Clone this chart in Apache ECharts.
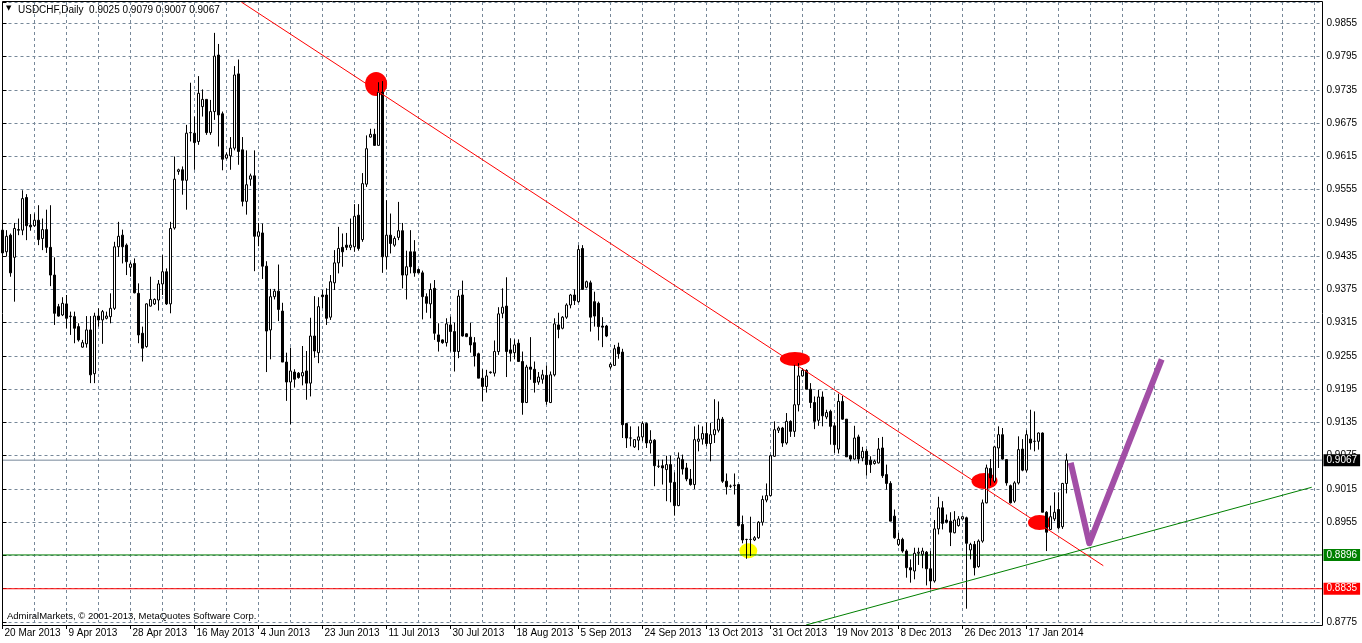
<!DOCTYPE html>
<html><head><meta charset="utf-8">
<script src="https://cdn.jsdelivr.net/npm/echarts@6/dist/echarts.min.js"></script>
<style>html,body{margin:0;padding:0;background:#fff}#c{width:1362px;height:643px}</style>
</head><body><div id="c"></div>
<script>
// ---- data ----
const symbolName = 'USDCHF,Daily';
const tickLabels = ['20 Mar 2013','9 Apr 2013','28 Apr 2013','16 May 2013','4 Jun 2013','23 Jun 2013','11 Jul 2013','30 Jul 2013','18 Aug 2013','5 Sep 2013','24 Sep 2013','13 Oct 2013','31 Oct 2013','19 Nov 2013','8 Dec 2013','26 Dec 2013','17 Jan 2014'];
const yTickLabels = ['0.8775','0.8835','0.8895','0.8955','0.9015','0.9075','0.9135','0.9195','0.9255','0.9315','0.9375','0.9435','0.9495','0.9555','0.9615','0.9675','0.9735','0.9795','0.9855'];
// daily bars: [open, high, low, close]
const ohlc = [
[.9482,.9483,.9406,.9441],[.9443,.9482,.9435,.9471],[.9473,.9476,.9398,.9405],[.9433,.9495,.9353,.9485],[.9483,.9503,.9473,.9482],
[.9482,.9554,.9473,.9539],[.9541,.9547,.9464,.9490],[.9491,.9511,.9481,.9488],[.9490,.9512,.9488,.9500],[.9500,.9527,.9455,.9465],
[.9467,.9503,.9446,.9483],[.9483,.9519,.9441,.9451],[.9451,.9527,.9381,.9401],[.9401,.9433,.9311,.9332],[.9344,.9349,.9326,.9327],
[.9329,.9361,.9327,.9350],[.9349,.9365,.9305,.9323],[.9326,.9335,.9293,.9327],[.9326,.9335,.9278,.9305],[.9308,.9314,.9281,.9284],
[.9271,.9284,.9270,.9279],[.9277,.9327,.9270,.9302],[.9302,.9327,.9206,.9221],[.9223,.9333,.9206,.9327],[.9327,.9341,.9308,.9320],
[.9320,.9338,.9277,.9335],[.9323,.9335,.9321,.9327],[.9326,.9368,.9314,.9341],[.9341,.9461,.9338,.9452],[.9452,.9497,.9434,.9471],
[.9473,.9483,.9422,.9452],[.9455,.9458,.9401,.9425],[.9415,.9425,.9398,.9421],[.9422,.9431,.9368,.9369],[.9368,.9386,.9278,.9293],
[.9296,.9308,.9245,.9269],[.9272,.9350,.9270,.9349],[.9345,.9398,.9344,.9357],[.9349,.9359,.9347,.9357],[.9356,.9392,.9337,.9385],
[.9385,.9437,.9365,.9407],[.9407,.9413,.9347,.9349],[.9349,.9497,.9332,.9485],
[.9486,.9615,.9483,.9574],[.9588,.9593,.9582,.9591],[.9591,.9597,.9546,.9572],[.9572,.9672,.9519,.9657],[.9658,.9748,.9642,.9658],
[.9657,.9687,.9591,.9640],[.9642,.9760,.9636,.9729],[.9705,.9736,.9687,.9718],[.9718,.9718,.9654,.9658],[.9658,.9717,.9654,.9696],
[.9696,.9838,.9681,.9796],[.9798,.9818,.9633,.9690],[.9692,.9696,.9590,.9610],[.9612,.9622,.9610,.9618],[.9616,.9650,.9591,.9630],
[.9630,.9778,.9626,.9762],[.9764,.9790,.9600,.9624],[.9627,.9650,.9525,.9534],[.9534,.9626,.9510,.9564],[.9574,.9584,.9562,.9580],
[.9580,.9626,.9408,.9471],[.9471,.9495,.9453,.9479],[.9477,.9494,.9394,.9417],[.9417,.9426,.9226,.9300],[.9302,.9376,.9249,.9362],
[.9362,.9376,.9357,.9372],[.9372,.9420,.9318,.9339],[.9336,.9351,.9244,.9244],[.9244,.9261,.9174,.9208],[.9208,.9270,.9132,.9228],
[.9226,.9231,.9198,.9213],[.9224,.9226,.9214,.9216],[.9219,.9273,.9202,.9225],[.9228,.9264,.9176,.9206],[.9206,.9324,.9182,.9291],
[.9291,.9363,.9252,.9264],
[.9261,.9361,.9242,.9344],[.9365,.9374,.9341,.9362],[.9365,.9377,.9311,.9323],[.9325,.9401,.9320,.9389],[.9387,.9446,.9374,.9423],
[.9423,.9488,.9404,.9449],[.9451,.9476,.9416,.9443],[.9455,.9477,.9446,.9451],[.9451,.9503,.9446,.9455],[.9452,.9529,.9443,.9507],
[.9509,.9529,.9445,.9449],[.9465,.9585,.9461,.9566],[.9565,.9653,.9560,.9629],[.9650,.9665,.9649,.9655],[.9655,.9665,.9635,.9635],
[.9635,.9749,.9635,.9731],[.9731,.9751,.9405,.9434],[.9434,.9536,.9411,.9473],[.9473,.9512,.9440,.9458],[.9455,.9471,.9452,.9467],
[.9469,.9533,.9464,.9481],[.9481,.9495,.9377,.9401],[.9401,.9445,.9357,.9416],[.9443,.9482,.9404,.9416],[.9443,.9464,.9398,.9405],
[.9411,.9413,.9404,.9405],[.9405,.9409,.9321,.9362],[.9362,.9368,.9333,.9350],[.9349,.9386,.9323,.9375],[.9377,.9392,.9284,.9296],
[.9293,.9314,.9263,.9281],[.9284,.9285,.9277,.9279],[.9279,.9323,.9272,.9313],[.9311,.9326,.9263,.9299],[.9299,.9315,.9227,.9263],
[.9263,.9374,.9251,.9363],
[.9365,.9391,.9290,.9291],[.9295,.9296,.9289,.9290],[.9289,.9315,.9261,.9275],[.9279,.9289,.9236,.9255],[.9259,.9261,.9215,.9215],
[.9215,.9231,.9173,.9200],[.9200,.9230,.9189,.9219],[.9225,.9227,.9223,.9226],[.9224,.9283,.9218,.9263],[.9263,.9343,.9257,.9331],
[.9332,.9377,.9323,.9343],[.9345,.9397,.9217,.9263],[.9266,.9287,.9245,.9260],[.9261,.9285,.9249,.9275],[.9278,.9285,.9245,.9245],
[.9245,.9263,.9149,.9171],[.9171,.9239,.9170,.9235],[.9235,.9289,.9212,.9231],[.9231,.9245,.9189,.9207],[.9208,.9226,.9203,.9217],
[.9213,.9230,.9205,.9221],[.9220,.9238,.9167,.9173],[.9171,.9227,.9170,.9221],[.9221,.9323,.9218,.9313],[.9311,.9333,.9287,.9303],
[.9305,.9327,.9303,.9325],[.9325,.9350,.9322,.9347],[.9347,.9367,.9341,.9365],[.9365,.9375,.9347,.9355],[.9353,.9455,.9351,.9447],
[.9449,.9455,.9375,.9375],[.9379,.9391,.9377,.9389],[.9387,.9391,.9299,.9325],[.9353,.9371,.9308,.9327],[.9350,.9353,.9283,.9308],
[.9309,.9325,.9271,.9307],[.9309,.9311,.9289,.9291],[.9235,.9243,.9231,.9240],[.9238,.9275,.9237,.9268],[.9271,.9279,.9250,.9259],
[.9262,.9268,.9107,.9131],
[.9133,.9134,.9089,.9107],[.9107,.9128,.9092,.9107],[.9091,.9105,.9089,.9104],[.9103,.9128,.9085,.9109],[.9109,.9137,.9101,.9133],
[.9133,.9135,.9089,.9098],[.9098,.9121,.9079,.9103],[.9103,.9105,.9020,.9057],[.9056,.9068,.9053,.9056],[.9057,.9068,.9023,.9053],
[.9050,.9075,.8993,.9059],[.9059,.9075,.8991,.9027],[.9027,.9045,.8967,.8985],[.8985,.9081,.8984,.9071],[.9068,.9077,.9041,.9051],
[.9053,.9062,.9029,.9033],[.9033,.9051,.9021,.9023],[.9023,.9128,.9015,.9104],[.9101,.9131,.9083,.9105],[.9105,.9128,.9095,.9115],
[.9115,.9135,.9092,.9097],[.9097,.9134,.9065,.9113],[.9113,.9177,.9098,.9122],[.9121,.9173,.9117,.9141],[.9141,.9145,.9026,.9029],
[.9029,.9043,.9005,.9019],[.9020,.9023,.9017,.9020],[.9021,.9043,.9005,.9022],[.9023,.9023,.8949,.8949],[.8951,.8967,.8917,.8923],
[.8924,.8925,.8889,.8924],[.8924,.8965,.8894,.8924],[.8923,.8930,.8921,.8927],[.8927,.8957,.8925,.8955],[.8955,.9003,.8949,.8996],
[.8995,.9025,.8991,.9003],[.9003,.9077,.9002,.9075],[.9074,.9137,.9073,.9122],[.9121,.9128,.9116,.9125],
[.9125,.9127,.9091,.9098],[.9098,.9152,.9095,.9137],[.9137,.9139,.9109,.9119],[.9119,.9239,.9109,.9167],[.9167,.9242,.9155,.9219],
[.9219,.9233,.9218,.9229],[.9229,.9231,.9195,.9195],[.9195,.9206,.9161,.9171],[.9171,.9182,.9123,.9137],[.9139,.9194,.9129,.9181],
[.9181,.9191,.9128,.9147],[.9145,.9158,.9141,.9153],[.9155,.9158,.9095,.9128],[.9129,.9135,.9080,.9095],[.9087,.9187,.9079,.9173],
[.9173,.9183,.9140,.9141],[.9141,.9141,.9073,.9073],[.9075,.9077,.9065,.9069],[.9069,.9129,.9068,.9107],[.9109,.9113,.9061,.9069],
[.9071,.9091,.9065,.9083],[.9083,.9087,.9039,.9059],[.9067,.9074,.9044,.9059],[.9061,.9068,.9059,.9065],[.9062,.9107,.9061,.9087],
[.9089,.9109,.9035,.9039],[.9041,.9059,.9014,.9025],[.9025,.9029,.8957,.8957],[.8966,.8978,.8925,.8927],[.8915,.8936,.8912,.8924],
[.8924,.8927,.8900,.8903],[.8903,.8906,.8855,.8873],[.8873,.8888,.8846,.8869],[.8867,.8909,.8852,.8899],[.8899,.8909,.8878,.8901],
[.8897,.8909,.8872,.8903],[.8901,.8903,.8841,.8871],[.8871,.8903,.8834,.8849],[.8849,.8959,.8846,.8943],
[.8943,.9001,.8933,.8981],[.8981,.8993,.8942,.8953],[.8959,.8969,.8953,.8955],[.8957,.8973,.8912,.8937],[.8936,.8975,.8935,.8959],
[.8949,.8966,.8947,.8961],[.8961,.8967,.8960,.8965],[.8963,.8965,.8799,.8917],[.8905,.8918,.8888,.8915],[.8915,.8921,.8859,.8873],
[.8875,.8924,.8873,.8921],[.8921,.8996,.8918,.8990],[.8990,.9059,.8989,.9053],[.9052,.9069,.9021,.9035],[.9029,.9093,.9026,.9091],
[.9089,.9128,.9053,.9113],[.9113,.9125,.9068,.9069],[.9068,.9069,.9021,.9026],[.9021,.9023,.8989,.8990],[.8993,.9029,.8990,.9026],
[.9026,.9110,.9023,.9086],[.9087,.9105,.9047,.9049],[.9049,.9121,.9045,.9113],[.9105,.9158,.9086,.9098],[.9101,.9155,.9083,.9101],
[.9101,.9117,.9086,.9116],[.9116,.9117,.8973,.8973],[.8973,.8975,.8903,.8937],[.8942,.8985,.8941,.8965],[.8961,.9009,.8957,.8973],
[.8978,.9009,.8942,.8945],[.8947,.9026,.8943,.9025],[.9025,.9079,.9007,.9067]
];
// drawn objects, in [bar position, price]
const redTrend = [[59.7, 0.98937], [275.2, 0.88766]];
const greenTrend = [[200.9, 0.87696], [327.3, 0.90181]];
const purplePath = [[267.05, 0.90624], [271.7, 0.89170], [289.8, 0.92490]];
const redMarks = [[93.4, 0.97458], [198.1, 0.92496], [245.5, 0.90294], [259.25, 0.89545]];
const yellowMarks = [[186.45, 0.89035]];
const priceLevels = [0.9067, 0.8896, 0.8835];

// ---- chart ----
const yMin = 0.8775, yStep = 0.006, yMax = 0.98937;
const slots = 331;
const categories = [];
for (let i = 0; i < slots; i++) categories.push(String(i));
const labelAt = i => i % 16 === 0 && (i / 16) < tickLabels.length;

const redSizes = [[22, 24], [30, 14], [26, 16], [23, 15]];
const levelStyles = [
  { line: '#778899', bg: '#000000' },
  { line: '#008000', bg: '#008000' },
  { line: '#ff0000', bg: '#ff0000' }
];
const FONT = 'Liberation Sans';
const gridColor = '#778899';

const levelSeries = priceLevels.map((p, i) => ({
  type: 'line', xAxisIndex: 1, yAxisIndex: 0, z: 2, silent: true, symbol: 'none',
  data: [[0, p], [slots - 1, p]],
  lineStyle: { color: levelStyles[i].line, width: 1 },
  endLabel: { show: true, distance: 1, formatter: () => p.toFixed(4),
    color: '#fff', backgroundColor: levelStyles[i].bg, padding: [1, 3, 0, 3],
    fontFamily: FONT, fontSize: 10, lineHeight: 11 }
}));

const last = ohlc[ohlc.length - 1];
const chart = echarts.init(document.getElementById('c'), null, { renderer: 'canvas' });
chart.setOption({
  animation: false,
  backgroundColor: '#ffffff',
  grid: { left: 2.5, right: 39.5, top: 2, bottom: 21, containLabel: false, outerBoundsMode: 'none' },
  xAxis: [{
    type: 'category', data: categories, boundaryGap: false, offset: 3,
    axisLine: { show: false },
    axisTick: { show: true, length: 4, interval: (i) => labelAt(i), lineStyle: { color: '#000', width: 1 } },
    axisLabel: { interval: (i) => labelAt(i), formatter: (v, i) => tickLabels[i / 16] || '', align: 'left',
      margin: 3, color: '#000', fontFamily: FONT, fontSize: 10, padding: [0, 0, 0, 2] },
    splitLine: { show: true, interval: (i) => i % 8 === 0, lineStyle: { color: gridColor, type: [3, 3], width: 1 } }
  }, {
    type: 'value', min: 0, max: slots - 1, show: false
  }],
  yAxis: [{
    type: 'value', position: 'right', min: yMin, max: yMax, interval: yStep, scale: true,
    axisLine: { show: false },
    axisTick: { show: true, length: 4, lineStyle: { color: '#000' } },
    axisLabel: { margin: 4, color: '#000', fontFamily: FONT, fontSize: 10, showMaxLabel: true,
      formatter: (v) => {
        const k = Math.round((v - yMin) / yStep);
        return (Math.abs(v - (yMin + k * yStep)) < 1e-7 && yTickLabels[k]) ? yTickLabels[k] : '';
      } },
    splitLine: { show: true, lineStyle: { color: gridColor, type: [3, 3], width: 1 } }
  }],
  series: [
    {
      type: 'scatter', xAxisIndex: 1, yAxisIndex: 0, z: 1, silent: true,
      data: redMarks, symbol: 'circle',
      symbolSize: (v, p) => redSizes[p.dataIndex],
      itemStyle: { color: '#ff0000', opacity: 1 }
    },
    {
      type: 'scatter', xAxisIndex: 1, yAxisIndex: 0, z: 1, silent: true,
      data: yellowMarks, symbol: 'circle', symbolSize: [18, 15],
      itemStyle: { color: '#ffff00', opacity: 1 }
    },
    ...levelSeries,
    {
      type: 'candlestick', xAxisIndex: 0, yAxisIndex: 0, z: 3, barWidth: 2,
      data: ohlc.map(r => [r[0], r[3], r[2], r[1]]),
      itemStyle: { color: '#ffffff', color0: '#000000', borderColor: '#000000', borderColor0: '#000000', borderColorDoji: '#000000', borderWidth: 1 }
    },
    {
      type: 'line', xAxisIndex: 1, yAxisIndex: 0, z: 4, data: redTrend, symbol: 'none', silent: true,
      lineStyle: { color: '#ff0000', width: 1 }
    },
    {
      type: 'line', xAxisIndex: 1, yAxisIndex: 0, z: 4, data: greenTrend, symbol: 'none', silent: true, clip: false,
      lineStyle: { color: '#008000', width: 1 }
    },
    {
      type: 'line', xAxisIndex: 1, yAxisIndex: 0, z: 4, data: purplePath, symbol: 'none', silent: true,
      lineStyle: { color: '#a24ea6', width: 6, cap: 'butt', join: 'round' }
    }
  ],
  graphic: [
    { type: 'rect', silent: true, z: 100, shape: { x: 2.5, y: 1.5, width: 1320, height: 624 },
      style: { fill: null, stroke: '#000', lineWidth: 1 } },
    { type: 'text', silent: true, z: 101, left: 6, top: 5,
      style: { text: '▼', fill: '#000', font: '7px "DejaVu Sans"' } },
    { type: 'text', silent: true, z: 101, left: 18, top: 5,
      style: { text: symbolName + '  ' + last.map(v => v.toFixed(4)).join(' '), fill: '#000', font: '10px "' + FONT + '"' } },
    { type: 'text', silent: true, z: 101, left: 7, top: 611,
      style: { text: 'AdmiralMarkets, © 2001-2013, MetaQuotes Software Corp.', fill: '#000', font: '9.5px "' + FONT + '"' } }
  ]
});
</script>
</body></html>
